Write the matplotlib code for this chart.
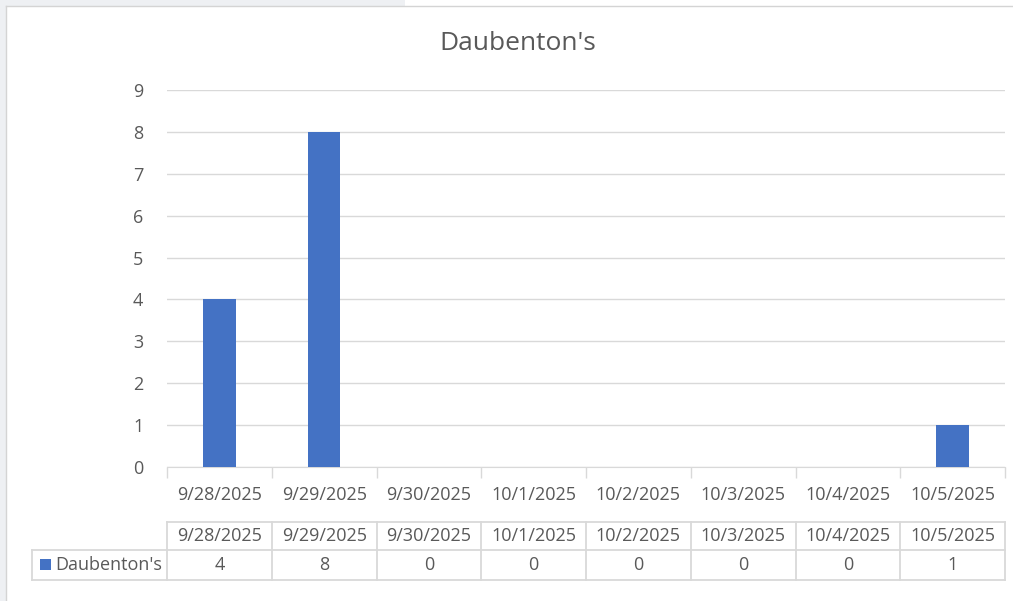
import matplotlib.pyplot as plt
from matplotlib.patches import Rectangle
from matplotlib.transforms import blended_transform_factory

# Data
dates = ['9/28/2025', '9/29/2025', '9/30/2025', '10/1/2025',
         '10/2/2025', '10/3/2025', '10/4/2025', '10/5/2025']
counts = [4, 8, 0, 0, 0, 0, 0, 1]
series_name = "Daubenton's"

bar_color = '#4472C4'
text_color = '#595959'
grid_color = '#D9D9D9'
fs = 13

plt.rcParams['font.family'] = ['Open Sans', 'DejaVu Sans']

W, H = 1013, 601
fig = plt.figure(figsize=(W / 100, H / 100), dpi=100)

# screenshot frame
fig.patches.append(Rectangle((0, 1 - 6 / H), 405 / W, 6 / H, transform=fig.transFigure,
                             facecolor='#EEF0F3', edgecolor='none'))
fig.patches.append(Rectangle((0, 0), 6 / W, 1, transform=fig.transFigure,
                             facecolor='#EEF0F3', edgecolor='none'))
fig.lines.append(plt.Line2D([6 / W, 1], [1 - 6 / H, 1 - 6 / H], transform=fig.transFigure,
                            color='#D4D4D4', lw=1))
fig.lines.append(plt.Line2D([6 / W, 6 / W], [0, 1 - 6 / H], transform=fig.transFigure,
                            color='#D4D4D4', lw=1))

# plot area in pixels
left, right, top, bottom = 167, 1005, 90, 467
ax = fig.add_axes([left / W, (H - bottom) / H, (right - left) / W, (bottom - top) / H])

x = list(range(len(dates)))
ax.bar(x, counts, width=0.31, color=bar_color, zorder=3)

ax.set_xlim(-0.5, len(dates) - 0.5)
ax.set_ylim(0, 9)
ax.set_yticks(range(0, 10))
ax.yaxis.grid(True, color=grid_color, lw=1)
ax.set_axisbelow(True)
for s in ['top', 'right', 'left']:
    ax.spines[s].set_visible(False)
ax.spines['bottom'].set_color(grid_color)
ax.tick_params(axis='y', length=0, labelsize=fs, labelcolor=text_color, pad=17)
ax.set_xticks([i - 0.5 for i in range(len(dates) + 1)])
ax.set_xticklabels([])
ax.tick_params(axis='x', length=8, color=grid_color, width=1, direction='out')

fig.text(518 / W, 1 - 43 / H, series_name, ha='center', va='center',
         fontsize=19, color=text_color)

# category labels + data table (x in data units, y in pixels)
tr = blended_transform_factory(ax.transData, ax.transAxes)


def ypix(p):
    return (bottom - p) / (bottom - top)


for i, d in enumerate(dates):
    ax.text(i, ypix(495), d, transform=tr, ha='center', va='center',
            fontsize=fs, color=text_color, clip_on=False)
    ax.text(i, ypix(536), d, transform=tr, ha='center', va='center',
            fontsize=fs, color=text_color, clip_on=False)
    ax.text(i, ypix(565), str(counts[i]), transform=tr, ha='center', va='center',
            fontsize=fs, color=text_color, clip_on=False)

n = len(dates)
legend_left = -0.5 - (left - 32) / ((right - left) / n)
line_kw = dict(transform=tr, color=grid_color, lw=1.3, clip_on=False)
ax.plot([-0.5, n - 0.5], [ypix(522), ypix(522)], **line_kw)
ax.plot([legend_left, n - 0.5], [ypix(550), ypix(550)], **line_kw)
ax.plot([legend_left, n - 0.5], [ypix(580), ypix(580)], **line_kw)
for i in range(n + 1):
    ax.plot([i - 0.5, i - 0.5], [ypix(522), ypix(580)], **line_kw)
ax.plot([legend_left, legend_left], [ypix(550), ypix(580)], **line_kw)

# legend key in the table
ax.add_patch(Rectangle((legend_left + 0.08, ypix(570)), 0.1, ypix(559) - ypix(570),
                       transform=tr, facecolor=bar_color, edgecolor='none', clip_on=False))
ax.text(legend_left + 0.22, ypix(565), series_name, transform=tr, ha='left', va='center',
        fontsize=fs, color=text_color, clip_on=False)

plt.savefig('out.png', dpi=100)
